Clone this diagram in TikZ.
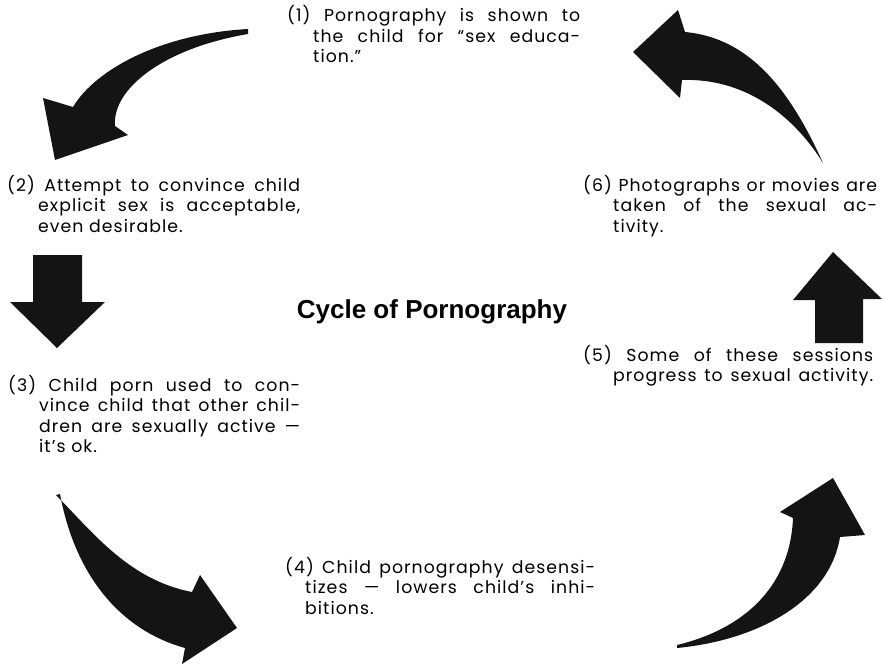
\documentclass[tikz,border=0pt]{standalone}
\usepackage{fontspec}
\setmainfont{Poppins}[LetterSpace=6]
\newfontfamily\titlefont{Liberation Sans}
\newdimen\linew
\newdimen\hangw
\newcommand{\fline}[1]{\hbox to \linew{#1}}
\newcommand{\nline}[1]{\hbox to \linew{\kern\hangw #1}}
\newcommand{\lline}[1]{\hbox{\kern\hangw #1}}
\newcommand{\steptext}[3]{\linew=#1pt\hangw=#2pt\vtop{\baselineskip=20.5pt #3}}
\begin{document}
\begin{tikzpicture}[x=1pt,y=-1pt,
    stepnote/.style={inner sep=0pt,anchor=base west,font=\fontsize{17.3}{20.5}\selectfont},
    bigarrow/.style={fill=black!92}]
\useasboundingbox (0,0) rectangle (883,666);
\node[stepnote] (s1) at (287,22) {\steptext{293}{26}{\fline{(1)\ Pornography is shown to}\nline{the child for ``sex educa-}\lline{tion.''}}};
\node[stepnote] (s2) at (7,191) {\steptext{293}{31}{\fline{(2)\ Attempt to convince child}\nline{explicit sex is acceptable,}\lline{even desirable.}}};
\node[stepnote] (s3) at (8,391) {\steptext{292}{31}{\fline{(3)\ Child porn used to con-}\nline{vince child that other chil-}\nline{dren are sexually active ---}\lline{it's ok.}}};
\node[stepnote] (s4) at (285,573) {\steptext{310}{20}{\fline{(4)\ Child pornography desensi-}\nline{tizes --- lowers child's inhi-}\lline{bitions.}}};
\node[stepnote] (s5) at (583,361) {\steptext{290}{30}{\fline{(5)\ Some of these sessions}\nline{progress to sexual activity.}}};
\node[stepnote] (s6) at (583,191) {\steptext{294}{30}{\fline{(6)\ Photographs or movies are}\nline{taken of the sexual ac-}\lline{tivity.}}};
\node[anchor=base,inner sep=0pt,font=\titlefont\bfseries\fontsize{26}{30}\selectfont] (title) at (432,318) {Cycle of Pornography};
\fill[bigarrow] (248,29) .. controls (160,34) and (95,70) .. (73,107) -- (43,98) -- (55,160) -- (128,135) -- (115,126) .. controls (112,88) and (165,48) .. (248,34) -- cycle;
\fill[bigarrow] (33,255) -- (82,255) -- (82,302) -- (105,302) -- (57,348) -- (10,302) -- (33,302) -- cycle;
\fill[bigarrow] (56,495) .. controls (95,535) and (130,580) .. (192,592) -- (200,575) -- (237,628) -- (182,664) -- (185,648) .. controls (120,630) and (75,575) .. (60,494) -- cycle;
\fill[bigarrow] (677,645) .. controls (740,630) and (790,590) .. (793,518) -- (780,512) -- (833,478) -- (865,535) -- (840,537) .. controls (830,600) and (760,640) .. (677,648) -- cycle;
\fill[bigarrow] (815,343) -- (863,343) -- (863,299) -- (882,299) -- (833,252) -- (793,300) -- (815,300) -- cycle;
\fill[bigarrow] (823,163) .. controls (790,90) and (750,38) .. (685,32) -- (678,10) -- (633,52) -- (680,98) -- (682,80) .. controls (740,78) and (790,110) .. (823,163) -- cycle;
\end{tikzpicture}
\end{document}
